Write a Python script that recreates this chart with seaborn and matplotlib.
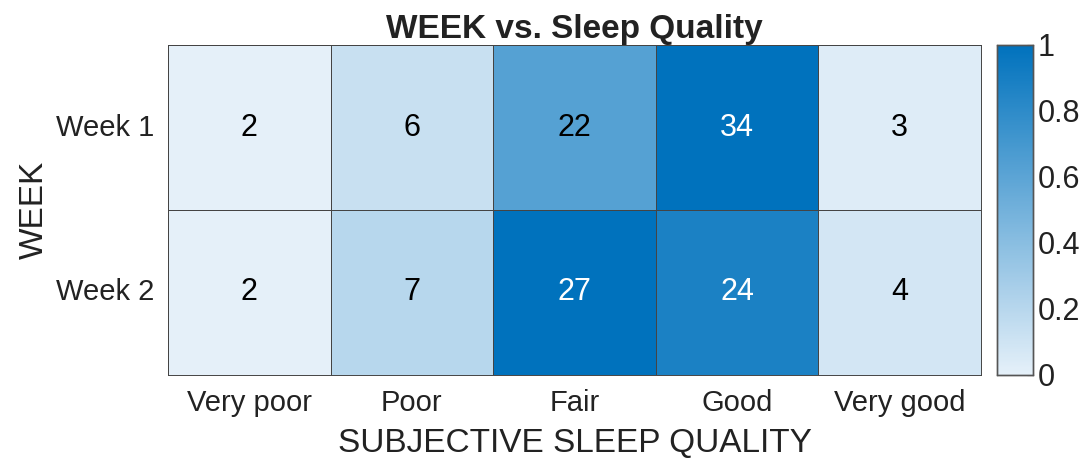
import numpy as np
import pandas as pd
import matplotlib
matplotlib.use('Agg')
import matplotlib.pyplot as plt
import seaborn as sns
from matplotlib.colors import LinearSegmentedColormap

weeks = ['Week 1', 'Week 2']
quality = ['Very poor', 'Poor', 'Fair', 'Good', 'Very good']
week1_counts = [2, 6, 22, 34, 3]
week2_counts = [2, 7, 27, 24, 4]

counts = pd.DataFrame([week1_counts, week2_counts], index=weeks, columns=quality)
# colour is scaled per row (min-max), annotations show raw counts
norm = counts.sub(counts.min(axis=1), axis=0).div(counts.max(axis=1) - counts.min(axis=1), axis=0)

sns.set_style('white')
plt.rcParams['font.family'] = ['Liberation Sans', 'DejaVu Sans']

cmap = LinearSegmentedColormap.from_list('matblue', ['#E5F0F9', '#0072BD'])

fig = plt.figure(figsize=(10.88, 4.63), dpi=100)
ax = fig.add_axes([168 / 1088, 1 - 375 / 463, (981 - 168) / 1088, (375 - 45) / 463])
cax = fig.add_axes([997 / 1088, 1 - 375 / 463, 36 / 1088, (375 - 45) / 463])

sns.heatmap(norm, ax=ax, cbar_ax=cax, cmap=cmap, vmin=0, vmax=1,
            annot=counts.values, fmt='d', linewidths=0.7, linecolor='#444444',
            annot_kws={'fontsize': 22})

for t, v in zip(ax.texts, norm.values.flatten()):
    t.set_color('white' if v > 0.75 else 'black')

for s in ax.spines.values():
    s.set_visible(True)
    s.set_color('#444444')
    s.set_linewidth(0.7)

ax.tick_params(axis='both', length=0, labelsize=21, colors='#222222', pad=10)
ax.set_yticklabels(weeks, rotation=0)
ax.set_xticklabels(quality, rotation=0)
ax.set_xlabel('SUBJECTIVE SLEEP QUALITY', fontsize=24, color='#222222', labelpad=8)
ax.set_ylabel('WEEK', fontsize=24, color='#222222', labelpad=4)
ax.set_title('WEEK vs. Sleep Quality', fontsize=24, fontweight='bold', color='#222222', pad=5)

cax.set_yticks([0, 0.2, 0.4, 0.6, 0.8, 1])
cax.set_yticklabels(['0', '0.2', '0.4', '0.6', '0.8', '1'])
cax.tick_params(labelsize=22, colors='#222222', direction='in', length=4, width=0.8)
for s in cax.spines.values():
    s.set_visible(True)
    s.set_color('#555555')
    s.set_linewidth(1)

fig.savefig('out.png', dpi=100)
